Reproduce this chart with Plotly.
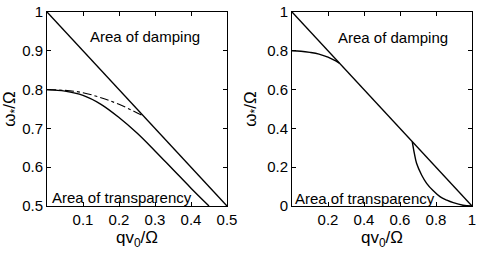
import plotly.graph_objects as go

# Left panel data
left_diag_x = [0.0, 0.5]
left_diag_y = [1.0, 0.5]
left_curve_x = [0.0, 0.05, 0.1, 0.15, 0.2, 0.25, 0.3, 0.35, 0.4, 0.45]
left_curve_y = [0.8, 0.796, 0.785, 0.762, 0.728, 0.688, 0.642, 0.594, 0.546, 0.5]
left_dash_x = [0.0, 0.05, 0.1, 0.15, 0.2, 0.268]
left_dash_y = [0.8, 0.798, 0.792, 0.779, 0.762, 0.732]

# Right panel data
right_diag_x = [0.0, 1.0]
right_diag_y = [1.0, 0.0]
right_upper_x = [0.0, 0.05, 0.1, 0.15, 0.2, 0.263]
right_upper_y = [0.8, 0.798, 0.792, 0.783, 0.767, 0.737]
right_lower_x = [0.668, 0.68, 0.692, 0.72, 0.748, 0.785, 0.822, 0.86, 0.896, 0.95, 1.0]
right_lower_y = [0.332, 0.27, 0.22, 0.16, 0.117, 0.078, 0.048, 0.03, 0.017, 0.004, 0.0]

left_xticks = [0.1, 0.2, 0.3, 0.4, 0.5]
left_yticks = [0.5, 0.6, 0.7, 0.8, 0.9, 1.0]
right_xticks = [0.2, 0.4, 0.6, 0.8, 1.0]
right_yticks = [0.0, 0.2, 0.4, 0.6, 0.8, 1.0]

FONT = "Liberation Sans, Arial, sans-serif"
line = dict(color="black", width=1.4)

fig = go.Figure()
fig.add_trace(go.Scatter(x=left_diag_x, y=left_diag_y, mode="lines", line=line, xaxis="x", yaxis="y"))
fig.add_trace(go.Scatter(x=left_curve_x, y=left_curve_y, mode="lines", line=dict(line, shape="spline"), xaxis="x", yaxis="y"))
fig.add_trace(go.Scatter(x=left_dash_x, y=left_dash_y, mode="lines", line=dict(color="black", width=1.1, dash="dashdot", shape="spline"), xaxis="x", yaxis="y"))
fig.add_trace(go.Scatter(x=right_diag_x, y=right_diag_y, mode="lines", line=line, xaxis="x2", yaxis="y2"))
fig.add_trace(go.Scatter(x=right_upper_x, y=right_upper_y, mode="lines", line=dict(line, shape="spline"), xaxis="x2", yaxis="y2"))
fig.add_trace(go.Scatter(x=right_lower_x, y=right_lower_y, mode="lines", line=dict(line, shape="spline"), xaxis="x2", yaxis="y2"))

ax = dict(showgrid=False, zeroline=False, showline=True, linecolor="black", linewidth=1,
          mirror="ticks", ticks="inside", ticklen=4, tickcolor="black",
          tickfont=dict(size=15, color="black", family=FONT), automargin=False)

fig.update_layout(
    width=480, height=256, showlegend=False,
    margin=dict(l=0, r=0, t=0, b=0),
    paper_bgcolor="white", plot_bgcolor="white",
    font=dict(family=FONT, color="black"),
    xaxis=dict(ax, domain=[47/480, 227/480], range=[0, 0.5], tickvals=left_xticks,
               ticktext=[f"{v:g}" for v in left_xticks], anchor="y",
               title=dict(text="qv<sub>0</sub>/Ω", font=dict(size=17), standoff=2)),
    yaxis=dict(ax, domain=[1-206/256, 1-12/256], range=[0.5, 1], tickvals=left_yticks,
               ticktext=[f"{v:g}" for v in left_yticks], anchor="x",
               title=dict(text="ω<sub>*</sub>/Ω", font=dict(size=17), standoff=6)),
    xaxis2=dict(ax, domain=[292/480, 472/480], range=[0, 1], tickvals=right_xticks,
                ticktext=[f"{v:g}" for v in right_xticks], anchor="y2",
                title=dict(text="qv<sub>0</sub>/Ω", font=dict(size=17), standoff=2)),
    yaxis2=dict(ax, domain=[1-206/256, 1-12/256], range=[0, 1], tickvals=right_yticks,
                ticktext=[f"{v:g}" for v in right_yticks], anchor="x2",
                title=dict(text="ω<sub>*</sub>/Ω", font=dict(size=17), standoff=6)),
)

ann_font = dict(size=15, color="black", family=FONT)
fig.add_annotation(x=0.272, y=0.936, xref="x", yref="y", text="Area of damping", showarrow=False, font=ann_font)
fig.add_annotation(x=0.208, y=0.523, xref="x", yref="y", text="Area of transparency", showarrow=False, font=ann_font)
fig.add_annotation(x=0.56, y=0.871, xref="x2", yref="y2", text="Area of damping", showarrow=False, font=ann_font)
fig.add_annotation(x=0.406, y=0.041, xref="x2", yref="y2", text="Area of transparency", showarrow=False, font=ann_font)

fig.write_html("out.html", config={"displayModeBar": False},
               post_script="document.body.style.margin='0';document.body.style.overflow='hidden';")
